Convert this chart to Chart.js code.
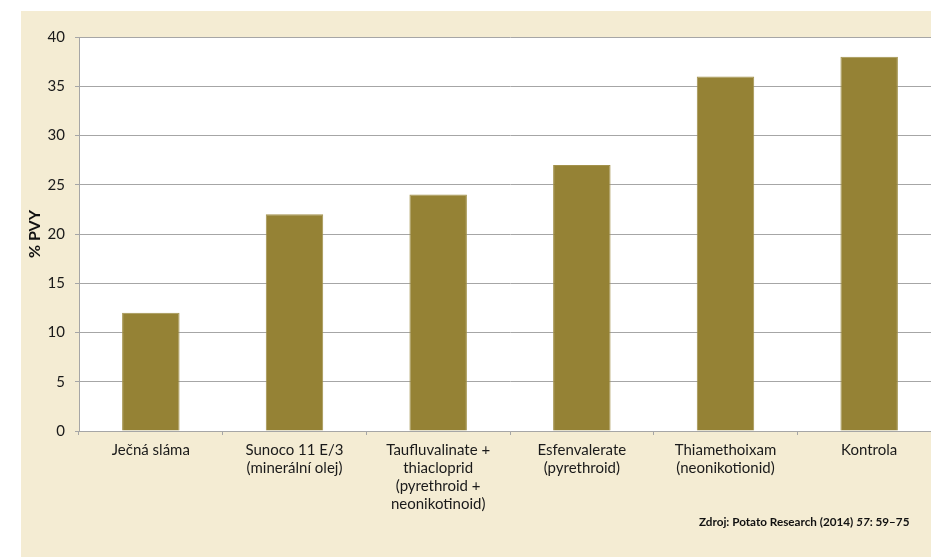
<!DOCTYPE html>
<html>
<head>
<meta charset="utf-8">
<script src="https://cdn.jsdelivr.net/npm/chart.js@4"></script>
<style>
    html, body { margin: 0; padding: 0; background: #ffffff; overflow: hidden; width: 931px; height: 557px; }
    #panel { position: absolute; left: 21px; top: 11px; width: 940px; height: 546px; background: #F4ECD3; }
    #chart { position: absolute; left: 0; top: 0; }
    #source { position: absolute; left: 678px; top: 503px; font-family: Lato, sans-serif; font-weight: bold; font-size: 11.7px; color: #111; white-space: nowrap; }
</style>
</head>
<body>
<div id="panel">
    <canvas id="chart" width="940" height="546"></canvas>
    <div id="source">Zdroj: Potato Research (2014) <i>57</i>: 59–75</div>
</div>
<script>
const categories = [
    ["Ječná sláma"],
    ["Sunoco 11 E/3", "(minerální olej)"],
    ["Taufluvalinate +", "thiacloprid", "(pyrethroid +", "neonikotinoid)"],
    ["Esfenvalerate", "(pyrethroid)"],
    ["Thiamethoixam", "(neonikotionid)"],
    ["Kontrola"]
]
const pvyValues = [12, 22, 24, 27, 36, 38]
const yTitle = "% PVY"

const plotBackground = {
    id: "plotBackground",
    beforeDraw(chart) {
        const { ctx, chartArea } = chart
        ctx.save()
        ctx.fillStyle = "#ffffff"
        ctx.fillRect(chartArea.left, chartArea.top, chartArea.right - chartArea.left, chartArea.bottom - chartArea.top)
        ctx.restore()
    }
}

new Chart(document.getElementById("chart"), {
    type: "bar",
    data: {
        labels: categories,
        datasets: [{
            label: yTitle,
            data: pvyValues,
            backgroundColor: "#958235",
            borderColor: "#a3924c",
            borderWidth: 1,
            categoryPercentage: 1,
            barPercentage: 0.4
        }]
    },
    options: {
        responsive: false,
        animation: false,
        layout: { padding: { top: 26, right: 20, bottom: 0, left: 0 } },
        plugins: {
            legend: { display: false },
            tooltip: { enabled: false }
        },
        scales: {
            x: {
                afterFit: (scale) => { scale.height = 126 },
                grid: {
                    drawOnChartArea: false,
                    drawTicks: true,
                    tickLength: 4,
                    color: "#a6a6a6",
                    offset: true
                },
                border: { color: "#a6a6a6" },
                ticks: {
                    padding: 6,
                    color: "#1a1a1a",
                    maxRotation: 0,
                    autoSkip: false,
                    font: { family: "Lato", size: 15, lineHeight: 1.2 }
                }
            },
            y: {
                min: 0,
                max: 40,
                afterFit: (scale) => { scale.width = 58 },
                grid: {
                    color: "#a6a6a6",
                    tickLength: 4
                },
                border: { color: "#a6a6a6" },
                ticks: {
                    stepSize: 5,
                    padding: 10,
                    color: "#1a1a1a",
                    font: { family: "Lato", size: 15 }
                },
                title: {
                    display: true,
                    text: yTitle,
                    color: "#111",
                    padding: { top: 4, bottom: 0 },
                    font: { family: "Lato", size: 16, weight: "bold" }
                }
            }
        }
    },
    plugins: [plotBackground]
})
</script>
</body>
</html>
